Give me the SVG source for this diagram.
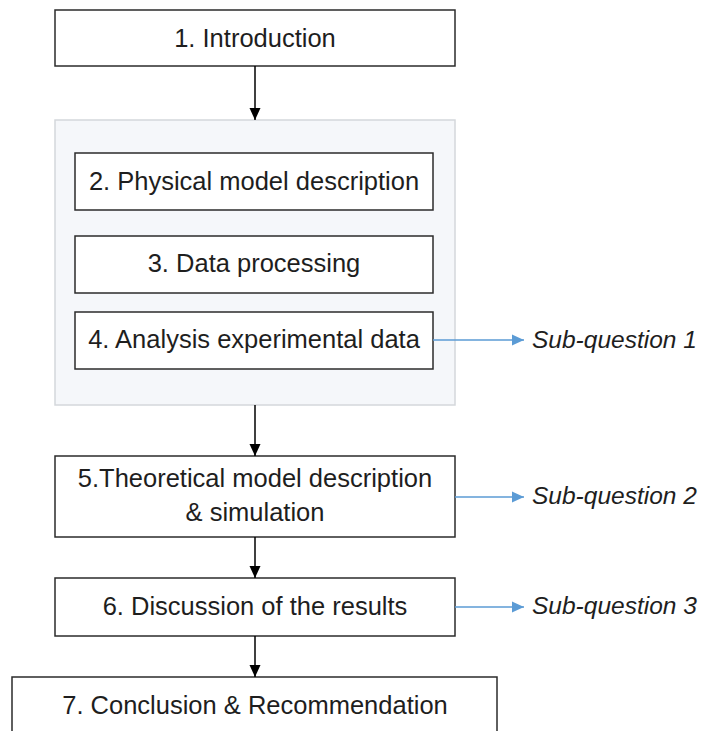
<svg xmlns="http://www.w3.org/2000/svg" width="706" height="731" viewBox="0 0 706 731">
<defs>
<marker id="ah" markerUnits="userSpaceOnUse" markerWidth="12" markerHeight="12" viewBox="0 0 12 12" refX="12" refY="6" orient="auto">
<path d="M0,0.5 L12,6 L0,11.5 Z" fill="#000"/>
</marker>
<marker id="ahb" markerUnits="userSpaceOnUse" markerWidth="12" markerHeight="12" viewBox="0 0 12 12" refX="12" refY="6" orient="auto">
<path d="M0,0.5 L12,6 L0,11.5 Z" fill="#5b9bd5"/>
</marker>
</defs>
<style>
.box{fill:#fff;stroke:#2b2b2b;stroke-width:1.5}
.grp{fill:#f5f7fa;stroke:#d4d7db;stroke-width:1.5}
.t{font-family:"Liberation Sans",Arial,sans-serif;font-size:25.5px;fill:#1e1e1e;text-anchor:middle}
.q{font-family:"Liberation Sans",Arial,sans-serif;font-size:24.5px;font-style:italic;fill:#1e1e1e}
.c{stroke:#000;stroke-width:1.5;fill:none;marker-end:url(#ah)}
.cb{stroke:#5b9bd5;stroke-width:1.5;fill:none;marker-end:url(#ahb)}
</style>
<rect width="706" height="731" fill="#fff"/>
<g id="group">
<rect class="grp" x="55" y="120" width="400" height="285"/>
</g>
<g id="n1"><rect class="box" x="55" y="10" width="400" height="56"/><text class="t" x="255" y="47">1. Introduction</text></g>
<g id="n2"><rect class="box" x="75" y="153" width="358" height="57"/><text class="t" x="254" y="190">2. Physical model description</text></g>
<g id="n3"><rect class="box" x="75" y="236" width="358" height="57"/><text class="t" x="254" y="272">3. Data processing</text></g>
<g id="n4"><rect class="box" x="75" y="312" width="358" height="57"/><text class="t" x="254" y="348">4. Analysis experimental data</text></g>
<g id="n5"><rect class="box" x="55" y="456" width="400" height="81"/><text class="t" x="255" y="487">5.Theoretical model description</text><text class="t" x="255" y="521">&amp; simulation</text></g>
<g id="n6"><rect class="box" x="55" y="578" width="400" height="58"/><text class="t" x="255" y="615">6. Discussion of the results</text></g>
<g id="n7"><rect class="box" x="12" y="677" width="485" height="70"/><text class="t" x="255" y="714">7. Conclusion &amp; Recommendation</text></g>
<g id="q1"><text class="q" x="532" y="348">Sub-question 1</text></g>
<g id="q2"><text class="q" x="532" y="504">Sub-question 2</text></g>
<g id="q3"><text class="q" x="532" y="614">Sub-question 3</text></g>
<g id="connectors">
<line class="c" x1="255" y1="66" x2="255" y2="120"/>
<line class="c" x1="255" y1="405" x2="255" y2="456"/>
<line class="c" x1="255" y1="537" x2="255" y2="578"/>
<line class="c" x1="255" y1="636" x2="255" y2="677"/>
<line class="cb" x1="433" y1="340" x2="524" y2="340"/>
<line class="cb" x1="455" y1="497" x2="524" y2="497"/>
<line class="cb" x1="455" y1="607" x2="524" y2="607"/>
</g>
</svg>
